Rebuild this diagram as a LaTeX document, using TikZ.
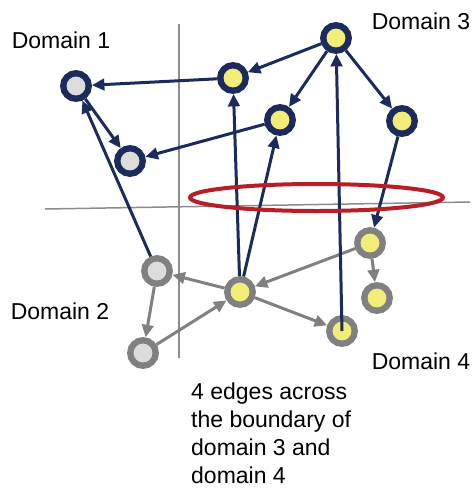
\documentclass[tikz,border=0pt]{standalone}
\usepackage{fontspec}
\setmainfont{Liberation Sans}
\usetikzlibrary{arrows.meta}

\definecolor{navy}{HTML}{1C2B5C}
\definecolor{ringgray}{HTML}{808080}
\definecolor{fillgray}{HTML}{DCDCDC}
\definecolor{fillyellow}{HTML}{F2EC78}
\definecolor{bordred}{HTML}{B81E25}
\definecolor{axisgray}{HTML}{8C8C8C}

\tikzset{
  vert/.style={circle, inner sep=0pt, minimum size=25.5pt, line width=6.3pt},
  navygray/.style={vert, draw=navy, fill=fillgray},
  navyyellow/.style={vert, draw=navy, fill=fillyellow},
  graygray/.style={vert, draw=ringgray, fill=fillgray},
  grayyellow/.style={vert, draw=ringgray, fill=fillyellow},
  navyedge/.style={draw=navy, line width=3pt, -{Triangle[length=12.5pt,width=11.5pt]}},
  grayedge/.style={draw=ringgray, line width=3pt, -{Triangle[length=12.5pt,width=11.5pt]}},
  lbl/.style={font=\fontsize{23}{28}\selectfont}
}

\begin{document}
\begin{tikzpicture}[x=1pt,y=-1pt]
\useasboundingbox (0,0) rectangle (472,488);

% Axes
\coordinate (ytop) at (179,24);
\coordinate (ybot) at (179,358);
\coordinate (xleft) at (45,209);
\coordinate (xright) at (470,202);
\draw[axisgray, line width=1.5pt] (ytop) -- (ybot);
\draw[axisgray, line width=1.5pt] (xleft) -- (xright);

% Domain 1
\node[navygray] (d1a) at (76,86) {};
\node[navygray] (d1b) at (130,161) {};

% Domain 3
\node[navyyellow] (d3a) at (336,38) {};
\node[navyyellow] (d3b) at (233,78) {};
\node[navyyellow] (d3c) at (280,120) {};
\node[navyyellow] (d3d) at (402,121) {};

% Domain 2
\node[graygray] (d2a) at (157,271) {};
\node[graygray] (d2b) at (143,353) {};

% Domain 4
\node[grayyellow] (d4a) at (240,292) {};
\node[grayyellow] (d4b) at (370,243) {};
\node[grayyellow] (d4c) at (377,298) {};
\node[grayyellow] (d4d) at (342,331) {};

% Gray edges
\draw[grayedge] (d4a) -- (d2a);
\draw[grayedge] (d2a) -- (d2b);
\draw[grayedge] (d2b) -- (d4a);
\draw[grayedge] (d4b) -- (d4a);
\draw[grayedge] (d4b) -- (d4c);
\draw[grayedge] (d4a) -- (d4d);

% Navy edges
\draw[navyedge] (d3b) -- (d1a);
\draw[navyedge] (d3a) -- (d3b);
\draw[navyedge] (d3a) -- (d3c);
\draw[navyedge] (d3a) -- (d3d);
\draw[navyedge] (d1a) -- (d1b);
\draw[navyedge] (d3c) -- (d1b);
\draw[navyedge] (d2a) -- (d1a);
\draw[navyedge] (d4a) -- (d3b);
\draw[navyedge] (d4a) -- (d3c);
\draw[navyedge] (d4d.center) -- (d3a);
\draw[navyedge] (d3d) -- (d4b);

% Boundary
\draw[bordred, line width=4pt] (316.5,197.5) ellipse [x radius=126.5, y radius=13.5];

% Labels
\node[lbl] (lab1) at (61,40) {Domain 1};
\node[lbl] (lab2) at (60,311) {Domain 2};
\node[lbl] (lab3) at (421,21) {Domain 3};
\node[lbl] (lab4) at (421,361) {Domain 4};
\node[lbl, anchor=west, align=left, inner sep=0pt] (note) at (191,433)
  {4 edges across\\the boundary of\\domain 3 and\\domain 4};

\end{tikzpicture}
\end{document}
